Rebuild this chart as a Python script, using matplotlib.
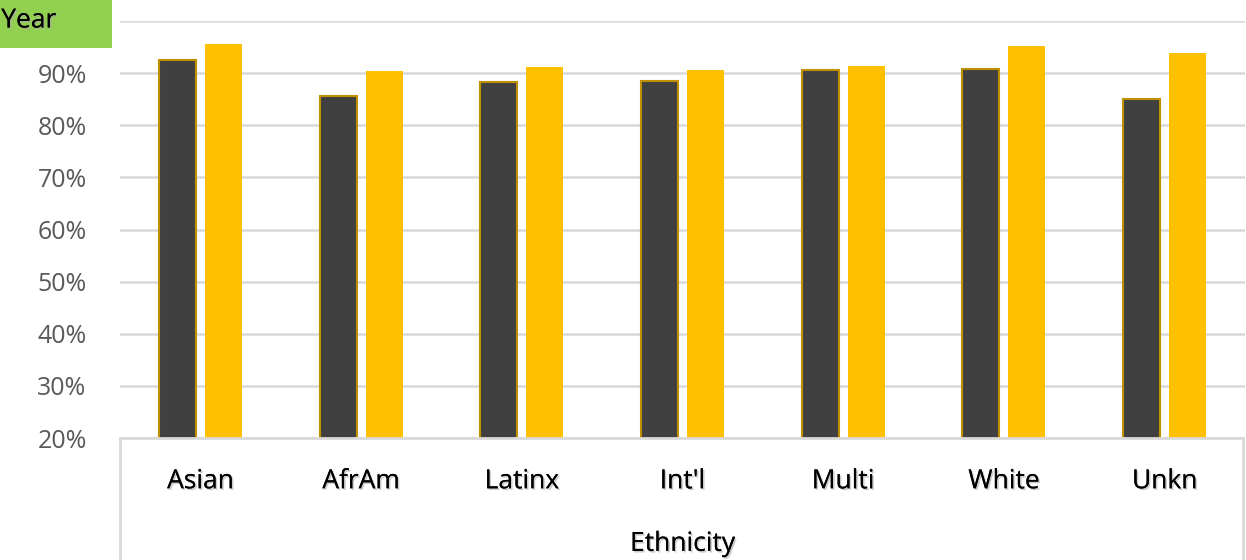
import numpy as np
import matplotlib
matplotlib.use("Agg")
import matplotlib.pyplot as plt
import matplotlib.patheffects as pe
from matplotlib.lines import Line2D
from matplotlib.patches import Rectangle

categories = ["Asian", "AfrAm", "Latinx", "Int'l", "Multi", "White", "Unkn"]
series_a = [92.5, 85.6, 88.3, 88.5, 90.6, 90.8, 85.0]
series_b = [95.6, 90.4, 91.2, 90.6, 91.3, 95.2, 93.8]
yticks = [20, 30, 40, 50, 60, 70, 80, 90, 100]
ytick_labels = ["20%", "30%", "40%", "50%", "60%", "70%", "80%", "90%", ""]  # 100% sits under the Year button

plt.rcParams['font.family'] = ['Open Sans', 'DejaVu Sans']

fig = plt.figure(figsize=(12.46, 5.6), dpi=100)
ax = fig.add_axes([120/1246, (560-438)/560, 1125/1246, (438-21)/560])

x = np.arange(len(categories))
w = 0.23
off = 0.143
ax.bar(x - off, series_a, w, color="#404040", edgecolor="#BF9000", linewidth=1.5, zorder=3)
ax.bar(x + off, series_b, w, color="#FFC000", zorder=3)

ax.set_xlim(-0.5, len(categories) - 0.5)
ax.set_ylim(20, 100)
ax.set_yticks(yticks)
ax.set_yticklabels(ytick_labels, fontsize=18, color="#595959")
ax.yaxis.grid(True, color="#D9D9D9", linewidth=1.8, zorder=0)
ax.tick_params(axis="y", length=0, pad=24)
ax.set_xticks([])
for s in ax.spines.values():
    s.set_visible(False)

shadow = [pe.withSimplePatchShadow(offset=(1.2, -1.2), shadow_rgbFace="#aaaaaa", alpha=0.6), pe.Normal()]
for i, c in enumerate(categories):
    ax.text(i, -0.105, c, transform=ax.get_xaxis_transform(), ha="center", va="center",
            fontsize=19, color="black", path_effects=shadow)
ax.text(0.5, -0.255, "Ethnicity", transform=ax.transAxes, ha="center", va="center",
        fontsize=19, color="black", path_effects=shadow)

# category table box
bot = -0.3
for xs, ys in [([0, 0], [0, bot]), ([0.998, 0.998], [0, bot]), ([0, 0.998], [0, 0])]:
    ax.add_line(Line2D(xs, ys, transform=ax.transAxes, color="#D9D9D9", linewidth=2, clip_on=False, zorder=4))

# "Year" field button
fig.patches.append(Rectangle((0, (560-48)/560), 112/1246, 48/560, transform=fig.transFigure,
                             facecolor="#92D050", edgecolor="none", zorder=10))
fig.text(0.001, (560-21)/560, "Year", ha="left", va="center", fontsize=19, color="black",
         zorder=11, path_effects=shadow)

fig.savefig("out.png", dpi=100)
